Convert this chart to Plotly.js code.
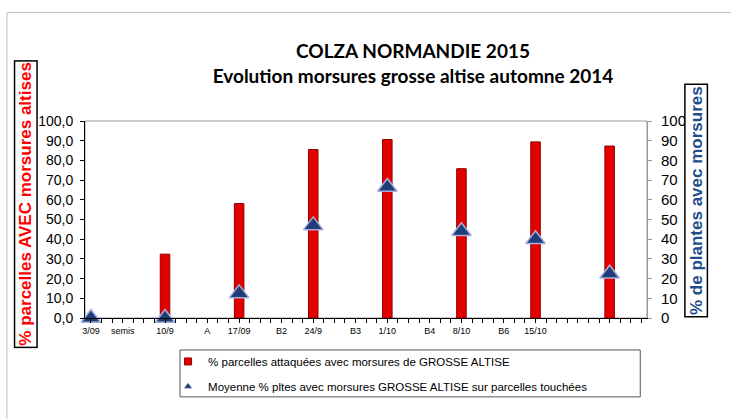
<!DOCTYPE html>
<html>
<head>
<meta charset="utf-8">
<script src="https://cdn.plot.ly/plotly-3.0.1.min.js"></script>
<style>
  html, body { margin: 0; padding: 0; background: #fff; }
  #chart { width: 731px; height: 419px; }
</style>
</head>
<body>
<div id="chart"></div>
<script>
// ---- data ----
const sampleDates = ['2014-09-03', '2014-09-10', '2014-09-17', '2014-09-24', '2014-10-01', '2014-10-08', '2014-10-15', '2014-10-22'];
const pctParcellesAttaquees = [0, 32.4, 58.1, 85.5, 90.6, 75.8, 89.4, 87.3];
const moyennePctPlantes = [0, 0, 12.5, 47, 66.5, 44, 40, 22.5];

const tickDates = ['2014-09-03', '2014-09-06', '2014-09-10', '2014-09-14', '2014-09-17', '2014-09-21', '2014-09-24', '2014-09-28', '2014-10-01', '2014-10-05', '2014-10-08', '2014-10-12', '2014-10-15'];
const tickLabels = ['3/09', 'semis', '10/9', 'A', '17/09', 'B2', '24/9', 'B3', '1/10', 'B4', '8/10', 'B6', '15/10'];
const leftTicks = [0, 10, 20, 30, 40, 50, 60, 70, 80, 90, 100];

const seriesNames = [
  '% parcelles attaquées avec morsures de GROSSE ALTISE',
  'Moyenne % pltes avec morsures GROSSE ALTISE sur parcelles touchées'
];
const titleLines = ['COLZA NORMANDIE 2015', 'Evolution morsures grosse altise automne 2014'];
const leftTitle = '% parcelles AVEC morsures altises';
const rightTitle = '% de plantes avec morsures';

const xRange = ['2014-09-02 10:34', '2014-10-25 12:43'];
const DAY = 86400000;
const lato = 'Lato, "Open Sans", sans-serif';
const arial = '"Liberation Sans", Arial, sans-serif';

const traces = [
  {
    type: 'bar', x: sampleDates, y: pctParcellesAttaquees, yaxis: 'y', xaxis: 'x',
    width: 0.9 * DAY,
    marker: { color: '#E50000', line: { color: '#8E0000', width: 1 } },
    name: seriesNames[0], showlegend: false
  },
  {
    type: 'scatter', mode: 'markers', x: sampleDates, y: moyennePctPlantes, yaxis: 'y2', xaxis: 'x',
    marker: { symbol: 'triangle-up', size: 17, color: '#1F3D78', line: { color: '#A7AEDA', width: 1.5 } },
    cliponaxis: false, name: seriesNames[1], showlegend: false
  },
  // legend proxies (no data)
  {
    type: 'scatter', mode: 'markers', x: [null], y: [null], name: seriesNames[0],
    marker: { symbol: 'square', size: 7, color: '#E50000', line: { color: '#8E0000', width: 1 } },
    legendgroup: 'a'
  },
  {
    type: 'scatter', mode: 'markers', x: [null], y: [null], name: seriesNames[1],
    marker: { symbol: 'triangle-up', size: 7, color: '#1F3D78', line: { color: '#A7AEDA', width: 0.5 } },
    legendgroup: 'b'
  }
];

const layout = {
  width: 731, height: 419,
  margin: { l: 85, r: 84, t: 121, b: 101 },
  paper_bgcolor: '#fff', plot_bgcolor: '#fff',
  separators: ', ',
  showlegend: true,
  bargap: 0,
  title: {
    text: titleLines.join('<br>'),
    font: { family: lato, size: 19, color: '#000', weight: 'bold' },
    x: 0.565, xanchor: 'center', xref: 'container',
    y: 0.862, yanchor: 'top', yref: 'container'
  },
  xaxis: {
    type: 'date', range: xRange,
    tickmode: 'array', tickvals: tickDates, ticktext: tickLabels,
    ticks: 'outside', ticklen: 4, tickcolor: '#000', tickwidth: 1,
    minor: { tick0: '2014-09-03', dtick: DAY, ticks: 'outside', ticklen: 4, tickcolor: '#000', tickwidth: 1, showgrid: false },
    showline: true, linecolor: '#000', linewidth: 1,
    showgrid: false, zeroline: false,
    tickfont: { family: arial, size: 9, color: '#000' },
    ticklabelstandoff: 0,
    fixedrange: true
  },
  xaxis2: {
    type: 'date', range: xRange, overlaying: 'x', anchor: 'y', side: 'bottom',
    tickmode: 'array', tickvals: tickDates, ticktext: tickLabels, showticklabels: false,
    ticks: 'inside', ticklen: 4, tickcolor: '#000',
    minor: { tick0: '2014-09-03', dtick: DAY, ticks: 'inside', ticklen: 4, tickcolor: '#000', showgrid: false },
    showline: false, showgrid: false, zeroline: false
  },
  yaxis: {
    range: [0, 100], tickmode: 'array', tickvals: leftTicks, tickformat: '.1f',
    ticks: 'outside', ticklen: 4, tickcolor: '#000',
    showline: true, linecolor: '#000', linewidth: 1,
    showgrid: false, zeroline: false,
    tickfont: { family: arial, size: 14, color: '#000' },
    ticklabelstandoff: 4,
    fixedrange: true
  },
  yaxis3: {
    range: [0, 100], overlaying: 'y', side: 'left', anchor: 'x',
    tickmode: 'array', tickvals: leftTicks, showticklabels: false,
    ticks: 'inside', ticklen: 4, tickcolor: '#000',
    showline: false, showgrid: false, zeroline: false
  },
  yaxis2: {
    range: [0, 100], overlaying: 'y', side: 'right', anchor: 'x',
    tickmode: 'array', tickvals: leftTicks,
    ticks: 'outside', ticklen: 4, tickcolor: '#999',
    showline: true, linecolor: '#999', linewidth: 1,
    showgrid: false, zeroline: false,
    tickfont: { family: arial, size: 15, color: '#000' },
    ticklabelstandoff: 6,
    fixedrange: true
  },
  legend: {
    x: 0.1478, y: -0.147, xanchor: 'left', yanchor: 'top',
    orientation: 'v', traceorder: 'grouped', tracegroupgap: 6,
    font: { family: arial, size: 11.5, color: '#000' },
    bgcolor: 'rgba(0,0,0,0)', borderwidth: 0
  },
  shapes: [
    { type: 'rect', xref: 'paper', yref: 'paper', x0: -0.1389, x1: 1.16, y0: -0.56, y1: 1.551,
      line: { color: '#BFBFBF', width: 1 }, layer: 'below' },
    { type: 'rect', xref: 'paper', yref: 'paper', x0: 0, x1: 1, y0: 0, y1: 1,
      line: { color: '#999', width: 1 }, layer: 'below' },
    { type: 'rect', xref: 'paper', yref: 'paper', x0: 0.1691, x1: 0.988, y0: -0.4004, y1: -0.1622,
      line: { color: '#555', width: 1 }, layer: 'below' }
  ],
  annotations: [
    { text: leftTitle, textangle: -90, xref: 'paper', yref: 'paper',
      x: (26 - 85) / 561.7, y: (318 - 204) / 197.3, xanchor: 'center', yanchor: 'middle', showarrow: false,
      font: { family: arial, size: 17, color: '#FF0000', weight: 'bold' },
      bordercolor: '#000', borderwidth: 1.5, borderpad: 1, bgcolor: '#fff' },
    { text: rightTitle, textangle: -90, xref: 'paper', yref: 'paper',
      x: (696 - 85) / 561.7, y: (318 - 200) / 197.3, xanchor: 'center', yanchor: 'middle', showarrow: false,
      font: { family: arial, size: 17, color: '#1F4E8C', weight: 'bold' },
      bordercolor: '#000', borderwidth: 1.5, borderpad: 1, bgcolor: '#fff' }
  ]
};

Plotly.newPlot('chart', traces, layout, { displayModeBar: false, staticPlot: true });
</script>
</body>
</html>
